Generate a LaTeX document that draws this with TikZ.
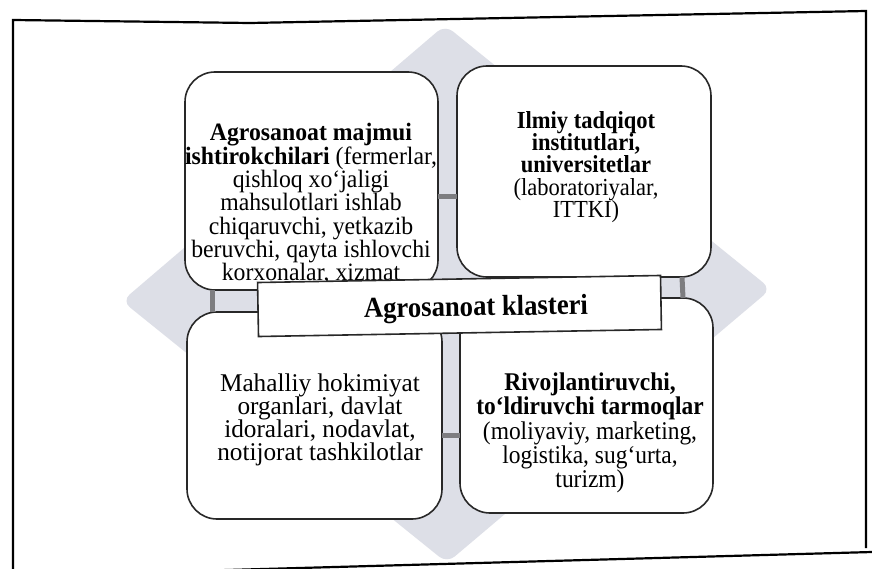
\documentclass[tikz,border=0pt]{standalone}
\usepackage{fontspec}
\setmainfont{Liberation Serif}[FakeStretch=0.92]
\newfontfamily\blfont{Liberation Serif}[FakeStretch=0.99]
\newfontfamily\tlfont{Liberation Serif}[FakeStretch=0.95]
\definecolor{diamondgray}{RGB}{221,223,231}
\definecolor{conngray}{RGB}{125,125,128}
\definecolor{edgegray}{RGB}{40,40,40}
\begin{document}
\begin{tikzpicture}[x=1pt,y=-1pt,
  quad/.style={draw=edgegray, line width=1.6pt, fill=white, rounded corners=30pt,
    inner sep=0pt, outer sep=0pt},
  txt/.style={align=center, inner sep=0pt},
  conn/.style={draw=conngray, line width=5pt},
  barbox/.style={draw=edgegray, line width=1.6pt, fill=white, inner sep=0pt,
    minimum width=403pt, minimum height=54pt},
  bartxt/.style={inner sep=0pt, font=\fontsize{29}{30}\selectfont\bfseries},
  frame/.style={draw=black, line width=2.2pt}
]
\useasboundingbox (0,0) rectangle (872,569);
\fill[white] (0,0) rectangle (872,569);
% outer frame
\draw[frame] (13,576) -- (13,20) -- (250,23) -- (866,11) -- (866,548);
\draw[frame] (13,576) -- (872,552);
% background diamond
\fill[diamondgray, rounded corners=10pt] (445,25) -- (771,289) -- (447,563) -- (122,301) -- cycle;
% boxes
\node[quad, minimum width=253pt, minimum height=218pt] (TL) at (311.5,181) {};
\node[quad, minimum width=254pt, minimum height=211pt] (TR) at (584,171.5) {};
\node[quad, minimum width=255pt, minimum height=207pt] (BL) at (314.5,415.5) {};
\node[quad, minimum width=253pt, minimum height=215pt] (BR) at (586.5,405.5) {};
% connectors
\draw[conn] ([yshift=-16pt]TL.east) -- ([yshift=-16pt-9.5pt]TR.west);
\draw[conn] ([xshift=27pt]TL.south west) -- ([xshift=25pt]BL.north west);
\draw[conn] ([xshift=-29pt]TR.south east) -- ([xshift=-30pt]BR.north east);
\draw[conn] ([yshift=-19.5pt]BL.east) -- ([yshift=-19.5pt-10pt]BR.west);
% texts
\node[txt, font=\tlfont\fontsize{25}{23.3}\selectfont] (TLt) at (311,204) {{\bfseries Agrosanoat majmui}\\
  {\bfseries ishtirokchilari} (fermerlar,\\
  qishloq xo‘jaligi\\
  mahsulotlari ishlab\\
  chiqaruvchi, yetkazib\\
  beruvchi, qayta ishlovchi\\
  korxonalar, xizmat};
\node[txt, font=\fontsize{24.5}{22.3}\selectfont] (TRt) at (586,167) {{\bfseries Ilmiy tadqiqot}\\
  {\bfseries institutlari,}\\
  {\bfseries universitetlar}\\
  (laboratoriyalar,\\
  ITTKI)};
\node[txt, font=\blfont\fontsize{25.5}{23.2}\selectfont] (BLt) at (320,420) {Mahalliy hokimiyat\\
  organlari, davlat\\
  idoralari, nodavlat,\\
  notijorat tashkilotlar};
\node[txt, font=\fontsize{25.5}{23}\selectfont] (BRt) at (590,433) {{\bfseries Rivojlantiruvchi,}\\
  {\bfseries to‘ldiruvchi tarmoqlar}\\
  (moliyaviy, marketing,\\
  logistika, sug‘urta,\\
  turizm)};
% central bar
\node[barbox, rotate=1] (bar) at (459.5,306) {};
\node[bartxt, rotate=1] (barT) at (476,309) {Agrosanoat klasteri};
\end{tikzpicture}
\end{document}
